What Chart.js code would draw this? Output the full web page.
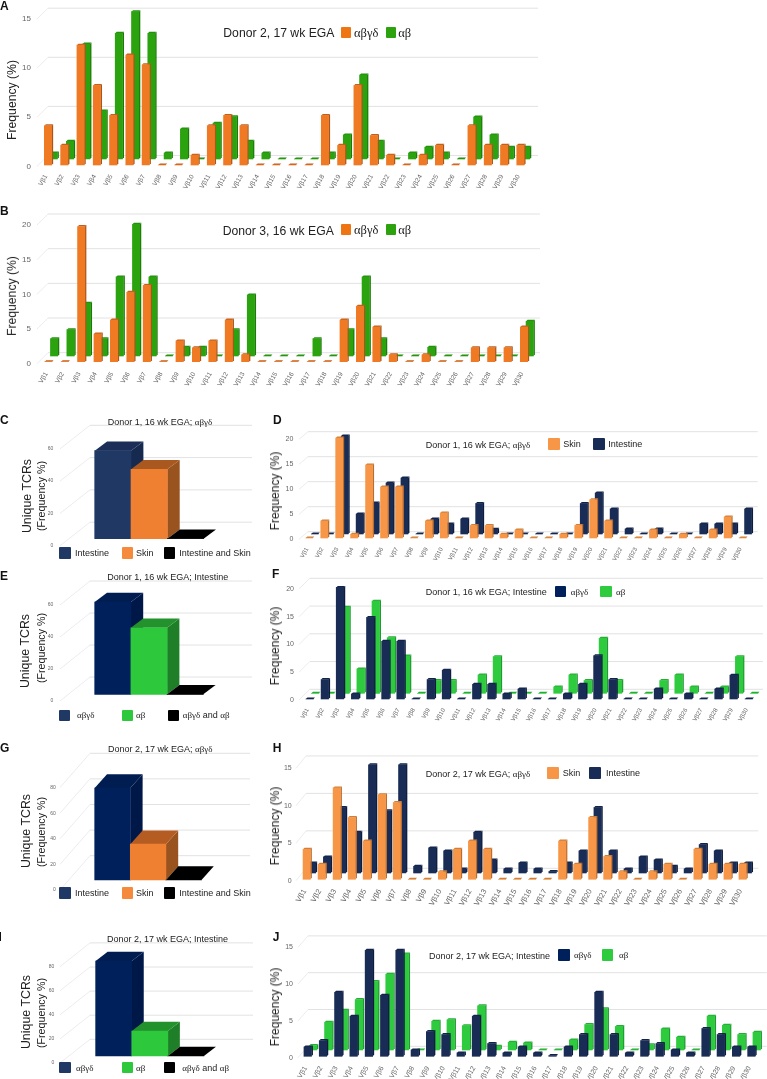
<!DOCTYPE html>
<html>
<head>
<meta charset="utf-8">
<title>TCR V-beta usage</title>
<script src="https://cdn.jsdelivr.net/npm/chart.js@4"></script>
<style>
  html, body { margin: 0; padding: 0; background: #fff; }
  #page { position: relative; width: 767px; height: 1079px; overflow: hidden; font-family: "Liberation Sans", sans-serif; color: #222; }
  canvas { position: absolute; }
  .txt { position: absolute; white-space: nowrap; transform: translateY(-50%); line-height: 1; }
  .vert { position: absolute; white-space: nowrap; transform: translate(-50%, -50%) rotate(-90deg); line-height: 1; }
  .letter { position: absolute; font-weight: bold; font-size: 12px; color: #111; transform: translateY(-50%); line-height: 1; }
  .sw { position: absolute; border-radius: 1px; }
  .gr { font-family: "Liberation Serif", serif; }
</style>
</head>
<body>
<div id="page"></div>
<script>
// Categories
const vBeta = ['Vβ1','Vβ2','Vβ3','Vβ4','Vβ5','Vβ6','Vβ7','Vβ8','Vβ9','Vβ10','Vβ11','Vβ12','Vβ13','Vβ14','Vβ15',
  'Vβ16','Vβ17','Vβ18','Vβ19','Vβ20','Vβ21','Vβ22','Vβ23','Vβ24','Vβ25','Vβ26','Vβ27','Vβ28','Vβ29','Vβ30'];
const skinGroups = ['Intestine', 'Skin', 'Intestine and Skin'];
const typeGroups = ['αβγδ', 'αβ', 'αβγδ and αβ'];

// Panel A, donor 2
const aOrange = [4,2,12.2,8.1,5.05,11.2,10.2,0,0,1,4,5.05,4,0,0,0,0,5.05,2,8.1,3,1,0,1,2,0,4,2,2,2];
const aGreen = [0.6,1.8,11.7,4.9,12.8,15,12.8,0.6,3.05,0,3.65,4.3,1.8,0.6,0,0,0,0.6,2.45,8.55,1.8,0,0.6,1.2,0.6,0,4.27,2.45,1.2,1.2];
// Panel B, donor 3
const bOrange = [0,0,19.5,4,6,10,11,0,3,2,3,6,1,0,0,0,0,0,6,8,5,1,0,1,0,0,2,2,2,5];
const bGreen = [2.5,3.8,7.6,2.5,11.4,19,11.4,0,1.25,1.25,0,3.8,8.8,0,0,0,2.5,0,3.8,11.4,2.5,0,0,1.25,0,0,0,0,0,5];
// Panel D
const dSkin = [0,3.4,20,0.75,14.6,10.2,10.2,0,3.4,5,0,2.5,2.5,0.75,1.6,0,0,0.75,2.5,7.65,3.4,0,0,1.6,0,0.75,0,1.6,4.2,0];
const dIntestine = [0,0,19.6,4,6.2,10.2,11.2,0,3,2,3,6.1,0.95,0,0,0,0,0,6.1,8.2,5,1,0,1,0,0,2,2,2,5];
// Panel F
const fAbgd = [0,3.5,20.1,0.9,14.7,10.4,10.4,0,3.5,5.2,0,2.65,2.65,0.9,1.8,0,0,0.9,2.65,7.8,3.5,0,0,1.8,0,0.9,0,1.8,4.3,0];
const fAb = [0,0,15.5,4.4,16.6,10,6.7,0,2.3,2.3,0,3.3,6.6,0,0,0,1.15,3.3,2.3,9.9,2.3,0,0,2.3,3.3,1.15,0,1.15,6.6,0];
// Panel H
const hSkin = [4,2,12.2,8.25,5.1,11.3,10.25,0,0,1,4,5.1,4,0,0,0,0,5.1,2,8.25,3.05,1,0,1,2,0,4,2,2,2];
const hIntestine = [1.35,2.15,8.75,5.45,14.45,8.3,14.45,0.9,3.35,2.95,0.55,5.45,1.75,0.55,1.35,0.55,0.2,1.35,2.95,8.75,2.95,0.55,2.15,1.75,0.9,0.55,3.8,2.95,1.35,1.35];
// Panel J
const jAbgd = [1.27,2.13,8.7,5.45,14.4,8.3,14.4,0.87,3.36,2.95,0.46,5.45,1.73,0.46,1.27,0.46,0.1,1.27,2.95,8.7,2.95,0.46,2.13,1.73,0.87,0.46,3.77,2.95,1.27,1.27];
const jAb = [0.6,3.77,5.4,6.85,9.3,10.3,13.05,0,3.9,4.1,3.3,6,0.5,1.05,0.95,0,0,1.36,3.45,5.6,3.2,0,0.73,2.86,1.73,0,4.6,3.36,2.1,2.4];
// Unique TCR panels
const cValues = [54.5, 43, 0];
const eValues = [57.7, 41.6, 0];
const gValues = [71.9, 28, 0];
const iValues = [78.8, 20.7, 0];

// Colours: front, side, top
const ORANGE = ['#f07a24', '#a8561c', '#c0601e'];
const DGREEN = ['#2ba30f', '#1c7a08', '#239010'];
const SKIN = ['#f79646', '#b96e30', '#cf7f3a'];
const NAVY = ['#182c55', '#0e1d3e', '#12234a'];
const LGREEN = ['#2ecb3e', '#219a33', '#26ad36'];
const BIG_NAVY = ['#1f3864', '#162a4f', '#1a2e58'];
const BIG_ORANGE = ['#ef7f31', '#99531f', '#a9581f'];
const DEEP_NAVY = ['#00205b', '#001848', '#001d52'];
const BIG_GREEN = ['#2ec83c', '#1f7f28', '#23912c'];
const BLACK = ['#000', '#000', '#000'];
const pick = (c, i) => Array.isArray(c) ? c[i] : c;

// Draws the side and top faces of each bar, shifts a series backwards, and draws the back wall grid
const depthPlugin = {
  id: 'depth',
  beforeDatasetsDraw(chart, args, opts) {
    const ctx = chart.ctx, y = chart.scales.y;
    ctx.save();
    y.ticks.forEach(t => {
      const py = y.getPixelForValue(t.value);
      ctx.strokeStyle = '#ececec';
      ctx.lineWidth = 1;
      ctx.beginPath();
      ctx.moveTo(opts.left, py);
      ctx.lineTo(opts.left + opts.dx, py + opts.dy);
      ctx.stroke();
      ctx.strokeStyle = '#e2e2e2';
      ctx.beginPath();
      ctx.moveTo(opts.left + opts.dx, py + opts.dy);
      ctx.lineTo(opts.right, py + opts.dy);
      ctx.stroke();
    });
    ctx.restore();
  },
  beforeDatasetDraw(chart, args, opts) {
    const ctx = chart.ctx, ds = chart.data.datasets[args.index];
    ctx.save();
    ctx.translate(ds.shiftX || 0, ds.shiftY || 0);
    args.meta.data.forEach((bar, i) => {
      const x1 = bar.x + bar.width / 2, x0 = bar.x - bar.width / 2;
      const top = Math.min(bar.y, bar.base), base = Math.max(bar.y, bar.base);
      ctx.fillStyle = pick(ds.sideColor, i);
      ctx.beginPath();
      ctx.moveTo(x1, top);
      ctx.lineTo(x1 + opts.depthX, top + opts.depthY);
      ctx.lineTo(x1 + opts.depthX, base + opts.depthY);
      ctx.lineTo(x1, base);
      ctx.closePath();
      ctx.fill();
      ctx.fillStyle = pick(ds.topColor, i);
      ctx.beginPath();
      ctx.moveTo(x0, top);
      ctx.lineTo(x0 + opts.depthX, top + opts.depthY);
      ctx.lineTo(x1 + opts.depthX, top + opts.depthY);
      ctx.lineTo(x1, top);
      ctx.closePath();
      ctx.fill();
    });
  },
  afterDatasetDraw(chart) {
    chart.ctx.restore();
  }
};

const page = document.getElementById('page');

function addDiv(cls, x, y, html, size) {
  const d = document.createElement('div');
  d.className = cls;
  d.style.left = x + 'px';
  d.style.top = y + 'px';
  if (size) d.style.fontSize = size + 'px';
  d.innerHTML = html.replace(/[αβγδ]+/g, m => '<span class="gr">' + m + '</span>');
  page.appendChild(d);
}

function addSwatch(x0, x1, yc, h, color) {
  const d = document.createElement('div');
  d.className = 'sw';
  d.style.cssText = `left:${x0}px;top:${yc - h / 2}px;width:${x1 - x0}px;height:${h}px;background:${color}`;
  page.appendChild(d);
}

function drawPanel(p) {
  const [cx, cy, cw, ch] = p.canvas;
  const c = document.createElement('canvas');
  c.width = cw;
  c.height = ch;
  c.style.left = cx + 'px';
  c.style.top = cy + 'px';
  c.style.width = cw + 'px';
  c.style.height = ch + 'px';
  page.appendChild(c);

  const areaLeft = p.firstCenter - p.step / 2 - (p.barShift || 0);
  const areaRight = areaLeft + p.step * p.labels.length;
  const datasets = p.series.map(s => ({
    label: s.label,
    data: s.data,
    backgroundColor: s.front,
    sideColor: s.side,
    topColor: s.top,
    shiftX: s.shiftX,
    shiftY: s.shiftY,
    grouped: false,
    clip: false,
    borderWidth: 0,
    barThickness: p.barW
  }));

  new Chart(c.getContext('2d'), {
    type: 'bar',
    data: { labels: p.labels, datasets: datasets },
    plugins: [depthPlugin],
    options: {
      responsive: false,
      animation: false,
      devicePixelRatio: 1,
      layout: { padding: { top: p.zeroY - p.max * p.ppu - cy, right: cx + cw - areaRight, left: 0, bottom: 0 } },
      plugins: {
        legend: { display: false },
        title: { display: false },
        tooltip: { enabled: false },
        depth: { left: p.gridLeft, right: p.gridRight - cx, dx: p.gridDx, dy: p.gridDy, depthX: p.depthX, depthY: p.depthY }
      },
      scales: {
        x: {
          grid: { display: false, drawTicks: false },
          border: { display: false },
          ticks: {
            display: p.showTicks,
            autoSkip: false,
            minRotation: 60,
            maxRotation: 60,
            padding: p.xPad,
            labelOffset: -2,
            color: '#666',
            font: { family: 'Liberation Sans', size: p.xFont }
          },
          afterFit(scale) { scale.height = cy + ch - p.zeroY; }
        },
        y: {
          min: 0,
          max: p.max,
          grid: { display: false, drawTicks: false },
          border: { display: false },
          ticks: {
            stepSize: p.tickStep,
            padding: areaLeft - p.labelRight,
            color: '#666',
            font: { family: 'Liberation Sans', size: p.tickSize }
          },
          afterFit(scale) { scale.width = areaLeft - cx; }
        }
      }
    }
  });

  addDiv('letter', p.letter[0], p.letter[1], p.id);
  addDiv('txt', p.title[0], p.title[1], p.title[2], p.title[3]);
  p.yTitles.forEach(t => addDiv('vert', t[0], t[1], t[2], t[3]));
  p.legend.forEach(l => {
    addSwatch(l.x0, l.x1, l.y, l.h, l.color);
    addDiv('txt', l.tx, l.y, l.text, l.size);
  });
}

function series(label, data, colors, shiftX, shiftY) {
  return { label, data, front: colors[0], side: colors[1], top: colors[2], shiftX, shiftY };
}

function bigPanel(o) {
  return Object.assign({ labels: vBeta, showTicks: true, depthX: 1.5, depthY: -1.5, xPad: 7, xFont: 6, tickSize: 7 }, o);
}

// The y tick padding also pads the chart area, so the bars are moved away from the axis by a shift instead
function tcrPanel(o, names, values, colors) {
  const barShift = o.firstCenter - o.step / 2 - o.labelRight - 3;
  return Object.assign({
    labels: names, showTicks: false, xPad: 0, xFont: 6, tickSize: 5, barW: o.step, gridLeft: 60, gridDx: 30, barShift,
    series: [{
      label: 'Unique TCRs', data: values, front: colors.map(k => k[0]), side: colors.map(k => k[1]), top: colors.map(k => k[2]),
      shiftX: barShift, shiftY: o.frontDy
    }]
  }, o);
}

function legendItems(items, y, h, size) {
  return items.map(i => ({ x0: i[0], x1: i[1], color: i[2], tx: i[3], text: i[4], y, h, size }));
}

const panels = [
  bigPanel({
    id: 'A', canvas: [0, 0, 767, 196], letter: [0, 6], zeroY: 166.3, ppu: 9.82, max: 15, tickStep: 5,
    firstCenter: 48, step: 16.29, barW: 7.3, labelRight: 31, gridLeft: 37, gridRight: 538, gridDx: 11, gridDy: -10.8, tickSize: 8, xFont: 6.5,
    series: [series('αβγδ', aOrange, ORANGE, 0, -1.3), series('αβ', aGreen, DGREEN, 5.7, -7.3)],
    title: [223.3, 33.3, 'Donor 2, 17 wk EGA', 12.2],
    yTitles: [[12, 100, 'Frequency (%)', 12.2]],
    legend: legendItems([[341.3, 351, '#ee7512', 354, 'αβγδ'], [386, 396, '#2da20f', 398.3, 'αβ']], 32.5, 11, 12.5)
  }),
  bigPanel({
    id: 'B', canvas: [0, 196, 767, 200], letter: [0, 210.7], zeroY: 363.7, ppu: 6.935, max: 20, tickStep: 5,
    firstCenter: 48.4, step: 16.4, barW: 7.3, labelRight: 31, gridLeft: 37, gridRight: 540, gridDx: 11, gridDy: -11, tickSize: 8, xFont: 6.5,
    series: [series('αβγδ', bOrange, ORANGE, 0, -2), series('αβ', bGreen, DGREEN, 5.7, -7.7)],
    title: [222.7, 230.7, 'Donor 3, 16 wk EGA', 12.2],
    yTitles: [[11.7, 296, 'Frequency (%)', 12.2]],
    legend: legendItems([[341.3, 351, '#ee7512', 354, 'αβγδ'], [386, 396, '#2da20f', 398.3, 'αβ']], 229.5, 11, 12.5)
  }),
  tcrPanel({
    id: 'C', canvas: [0, 405, 262, 150], letter: [0, 420], zeroY: 545.7, ppu: 1.615, max: 60, tickStep: 20,
    firstCenter: 112.85, step: 36.3, labelRight: 53.3, gridRight: 252, gridDy: -23.5, depthX: 12.4, depthY: -9.3, frontDy: -7,
    title: [107.7, 421.7, 'Donor 1, 16 wk EGA; αβγδ', 9],
    yTitles: [[26.7, 496, 'Unique TCRs', 12.4], [40.7, 496, '(Frequency %)', 10.7]],
    legend: legendItems([[59, 71, '#1f3864', 75, 'Intestine'], [122, 133, '#f58a3c', 136, 'Skin'], [163.7, 175, '#000', 179.3, 'Intestine and Skin']], 553, 11.5, 9)
  }, skinGroups, cValues, [BIG_NAVY, BIG_ORANGE, BLACK]),
  bigPanel({
    id: 'D', canvas: [262, 405, 505, 165], letter: [273, 420], zeroY: 539.3, ppu: 5, max: 20, tickStep: 5,
    firstCenter: 309.3, step: 14.94, barW: 7, labelRight: 293.3, gridLeft: 299 - 262, gridRight: 757.7, gridDx: 9, gridDy: -7.6,
    series: [series('Skin', dSkin, SKIN, 0, -1.3), series('Intestine', dIntestine, NAVY, 5.5, -5.3)],
    title: [425.7, 444.7, 'Donor 1, 16 wk EGA; αβγδ', 9],
    yTitles: [[275, 490.7, 'Frequency (%)', 12]],
    legend: legendItems([[548, 559.7, '#f79646', 563.3, 'Skin'], [593.3, 605, '#182c55', 608.3, 'Intestine']], 444, 11.5, 9)
  }),
  tcrPanel({
    id: 'E', canvas: [0, 570, 262, 150], letter: [0, 575.7], zeroY: 701, ppu: 1.6, max: 60, tickStep: 20,
    firstCenter: 112.8, step: 36.2, labelRight: 53.3, gridRight: 252, gridDy: -24, depthX: 12.3, depthY: -9.3, frontDy: -6.7,
    title: [107.3, 576.7, 'Donor 1, 16 wk EGA; Intestine', 9],
    yTitles: [[25, 651, 'Unique TCRs', 12.4], [40.7, 648, '(Frequency %)', 10.7]],
    legend: legendItems([[59, 70, '#1f3864', 77, 'αβγδ'], [122, 133, '#2ec83c', 136, 'αβ'], [167.7, 179, '#000', 182.7, 'αβγδ and αβ']], 715.3, 11.5, 9)
  }, typeGroups, eValues, [DEEP_NAVY, BIG_GREEN, BLACK]),
  bigPanel({
    id: 'F', canvas: [262, 570, 505, 165], letter: [272, 574], zeroY: 700, ppu: 5.55, max: 20, tickStep: 5,
    firstCenter: 309.7, step: 15.14, barW: 7.5, labelRight: 294, gridLeft: 299 - 262, gridRight: 763, gridDx: 10.7, gridDy: -10.7,
    series: [series('αβγδ', fAbgd, NAVY, 0, -1), series('αβ', fAb, LGREEN, 5.5, -6.7)],
    title: [425.7, 591.7, 'Donor 1, 16 wk EGA; Intestine', 9],
    yTitles: [[275, 646, 'Frequency (%)', 12]],
    legend: legendItems([[554.7, 566.3, '#00205b', 570.7, 'αβγδ'], [600, 611.7, '#2ecb3e', 616, 'αβ']], 591.5, 11.5, 9)
  }),
  tcrPanel({
    id: 'G', canvas: [0, 740, 262, 165], letter: [0, 748], zeroY: 890, ppu: 1.28, max: 80, tickStep: 20,
    firstCenter: 112.5, step: 35.6, labelRight: 55.7, gridRight: 250, gridDy: -34.3, depthX: 12.3, depthY: -13.7, frontDy: -10,
    title: [108, 749.3, 'Donor 2, 17 wk EGA; αβγδ', 9],
    yTitles: [[26, 830.7, 'Unique TCRs', 12.4], [40.7, 831.7, '(Frequency %)', 10.7]],
    legend: legendItems([[59, 71, '#1f3864', 75, 'Intestine'], [122, 133, '#f58a3c', 136, 'Skin'], [163.7, 175, '#000', 179.3, 'Intestine and Skin']], 893, 11.5, 9)
  }, skinGroups, gValues, [DEEP_NAVY, ['#ef7f31', '#99531f', '#b55c22'], BLACK]),
  bigPanel({
    id: 'H', canvas: [262, 735, 505, 170], letter: [272.7, 747.7], zeroY: 880.7, ppu: 7.49, max: 15, tickStep: 5,
    firstCenter: 306.7, step: 15.03, barW: 7.3, labelRight: 291.7, gridLeft: 296 - 262, gridRight: 758.3, gridDx: 10, gridDy: -12.4, xFont: 7.5,
    series: [series('Skin', hSkin, SKIN, 0, -1.4), series('Intestine', hIntestine, NAVY, 5.3, -7.7)],
    title: [425.7, 773.7, 'Donor 2, 17 wk EGA; αβγδ', 9],
    yTitles: [[275, 825.7, 'Frequency (%)', 12]],
    legend: legendItems([[547, 558.7, '#f79646', 562.7, 'Skin'], [589.3, 601.3, '#182c55', 606, 'Intestine']], 773, 11.5, 9)
  }),
  tcrPanel({
    id: 'I', canvas: [0, 905, 262, 174], letter: [-1.5, 937], zeroY: 1063, ppu: 1.205, max: 80, tickStep: 20,
    firstCenter: 113.7, step: 36.1, labelRight: 54.3, gridRight: 253, gridDy: -23.7, depthX: 12, depthY: -9.3, frontDy: -7,
    title: [107, 938.7, 'Donor 2, 17 wk EGA; Intestine', 9],
    yTitles: [[26, 1011.7, 'Unique TCRs', 12.4], [41.3, 1013, '(Frequency %)', 10.7]],
    legend: legendItems([[59.3, 70.7, '#1f3864', 76, 'αβγδ'], [122.3, 133, '#2ec83c', 136, 'αβ'], [163.7, 175, '#000', 182.3, 'αβγδ and αβ']], 1067.5, 11.5, 9)
  }, typeGroups, iValues, [DEEP_NAVY, BIG_GREEN, BLACK]),
  bigPanel({
    id: 'J', canvas: [262, 905, 505, 174], letter: [272.7, 937], zeroY: 1057.7, ppu: 7.36, max: 15, tickStep: 5,
    firstCenter: 307.7, step: 15.3, barW: 7.5, labelRight: 293, gridLeft: 298 - 262, gridRight: 766.7, gridDx: 10, gridDy: -11.4, xFont: 7,
    series: [series('αβγδ', jAbgd, NAVY, 0, -1.4), series('αβ', jAb, LGREEN, 5.3, -7.7)],
    title: [429, 955.7, 'Donor 2, 17 wk EGA; Intestine', 9],
    yTitles: [[275, 1006.7, 'Frequency (%)', 12]],
    legend: legendItems([[558.3, 570, '#00205b', 574, 'αβγδ'], [601.7, 613.3, '#2ecb3e', 619, 'αβ']], 955, 11.5, 9)
  })
];

panels.forEach(drawPanel);
</script>
</body>
</html>
